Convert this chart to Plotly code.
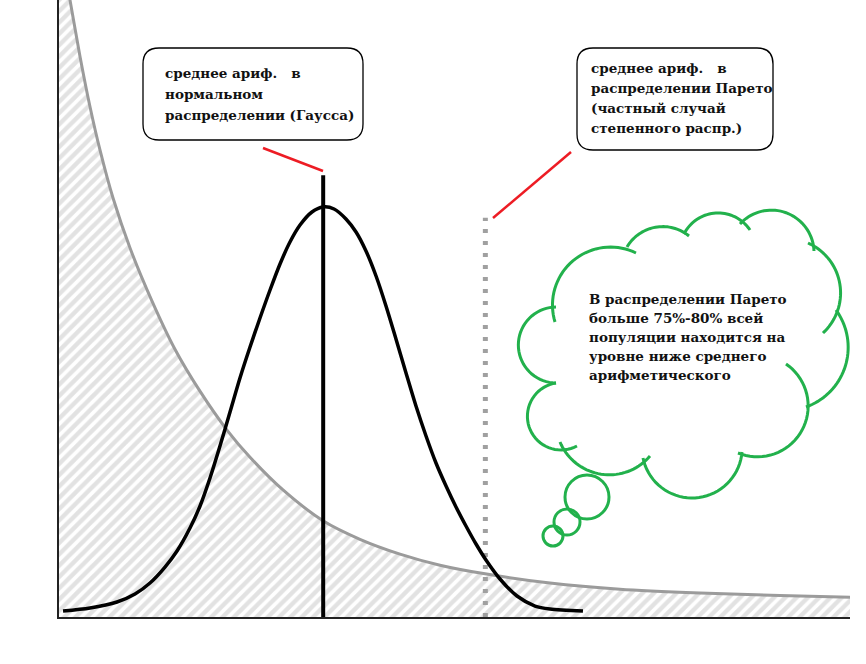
import math
import plotly.graph_objects as go

# Pareto (power-law) curve
pareto_x = [0, 1.39, 2.65, 3.92, 5.18, 6.83, 8.98, 11.76, 14.66, 17.82, 21.24,
            24.15, 28.32, 33.38, 38.05, 43.11, 48.17, 53.86, 62.07, 70.92,
            81.04, 91.15, 100]
pareto_y = [110.0, 100.0, 90.9, 82.7, 75.7, 67.9, 59.8, 51.2, 43.4, 36.6, 30.3,
            25.9, 20.6, 15.6, 12.6, 10.2, 8.4, 7.0, 5.5, 4.5, 3.9, 3.5, 3.2]

# normal (Gauss) curve
gauss_x = [0.51, 3.92, 7.33, 9.61, 11.50, 13.40, 14.92, 16.56, 17.83, 19.09,
           20.35, 21.62, 22.88, 24.15, 25.41, 26.68, 27.94, 29.20, 30.47, 31.98,
           33.38, 34.77, 36.28, 37.55, 38.81, 40.08, 41.34, 42.60, 43.87, 45.13,
           46.40, 47.66, 48.93, 50.19, 51.45, 52.72, 53.98, 55.75, 57.90, 60.18,
           62.07, 66.24]
gauss_y = [0.97, 1.46, 2.43, 3.73, 5.51, 8.10, 10.70, 14.42, 17.99, 22.53,
           27.71, 33.23, 38.74, 43.76, 48.46, 53.00, 57.21, 60.78, 63.53, 65.64,
           66.45, 66.13, 64.51, 62.40, 59.32, 55.27, 50.41, 45.06, 39.55, 34.20,
           29.34, 24.96, 21.23, 17.83, 14.75, 11.83, 9.24, 6.16, 3.40, 1.78,
           1.30, 0.97]

# arithmetic means: gauss, pareto
mean_x = [33.4, 53.9]
mean_top = [71.6, 64.7]

box_gauss = ["среднее ариф.\u00a0\u00a0 в", "нормальном", "распределении (Гаусса)"]
box_pareto = ["среднее ариф.\u00a0\u00a0 в", "распределении Парето",
              "(частный случай", "степенного распр.)"]
cloud_text = ["В распределении Парето", "больше 75%-80% всей",
              "популяции находится на", "уровне ниже среднего",
              "арифметического"]

W, H = 866, 664
ML, MR, MT, MB = 59, 16, 0, 47

FONT = "DejaVu Serif"
RED = "#ed1c24"
GREEN = "#22b14c"


def dx(px):
    # page pixel -> x data
    return (px - ML) / (W - ML - MR) * 100


def dy(py):
    # page pixel -> y data
    return (H - MB - py) / (H - MT - MB) * 100


def rounded_box(x0, y0, x1, y1, r=16):
    parts = [
        f"M {dx(x0 + r)},{dy(y0)}",
        f"L {dx(x1 - r)},{dy(y0)}",
        f"Q {dx(x1)},{dy(y0)} {dx(x1)},{dy(y0 + r)}",
        f"L {dx(x1)},{dy(y1 - r)}",
        f"Q {dx(x1)},{dy(y1)} {dx(x1 - r)},{dy(y1)}",
        f"L {dx(x0 + r)},{dy(y1)}",
        f"Q {dx(x0)},{dy(y1)} {dx(x0)},{dy(y1 - r)}",
        f"L {dx(x0)},{dy(y0 + r)}",
        f"Q {dx(x0)},{dy(y0)} {dx(x0 + r)},{dy(y0)}",
        "Z",
    ]
    return " ".join(parts)


def arc(p0, pm, p1, n=36):
    # circular arc from p0 through pm to p1 (page pixels) as an svg path
    (ax, ay), (bx, by), (cx, cy) = p0, pm, p1
    d = 2 * (ax * (by - cy) + bx * (cy - ay) + cx * (ay - by))
    ux = ((ax**2 + ay**2) * (by - cy) + (bx**2 + by**2) * (cy - ay)
          + (cx**2 + cy**2) * (ay - by)) / d
    uy = ((ax**2 + ay**2) * (cx - bx) + (bx**2 + by**2) * (ax - cx)
          + (cx**2 + cy**2) * (bx - ax)) / d
    r = math.hypot(ax - ux, ay - uy)
    a0 = math.atan2(ay - uy, ax - ux)
    am = math.atan2(by - uy, bx - ux)
    a1 = math.atan2(cy - uy, cx - ux)
    ccw = (am - a0) % (2 * math.pi)
    span = (a1 - a0) % (2 * math.pi)
    if ccw > span:
        span -= 2 * math.pi
    pts = []
    for i in range(n + 1):
        a = a0 + span * i / n
        pts.append(f"{dx(ux + r * math.cos(a))},{dy(uy + r * math.sin(a))}")
    return "M " + " L ".join(pts)


fig = go.Figure()

fig.add_trace(go.Scatter(
    x=pareto_x, y=pareto_y,
    mode='lines',
    line=dict(color='#9b9b9b', width=3, shape='spline', smoothing=0.8),
    fill='tozeroy',
    fillpattern=dict(shape='/', fgcolor='#c6c6c6', bgcolor='white',
                     size=8, solidity=0.55),
    hoverinfo='skip',
))

# mean of the normal distribution
fig.add_trace(go.Scatter(
    x=[mean_x[0], mean_x[0]], y=[0, mean_top[0]],
    mode='lines', line=dict(color='black', width=4), hoverinfo='skip',
))

# mean of the pareto distribution
fig.add_trace(go.Scatter(
    x=[mean_x[1], mean_x[1]], y=[0, mean_top[1]],
    mode='lines', line=dict(color='#a0a0a0', width=5, dash='4px,8px'),
    hoverinfo='skip',
))

fig.add_trace(go.Scatter(
    x=gauss_x, y=gauss_y,
    mode='lines',
    line=dict(color='black', width=3.5, shape='spline', smoothing=0.8),
    hoverinfo='skip',
))

shapes = []

# callout boxes
shapes.append(dict(type='path', path=rounded_box(143, 48, 363, 140),
                   line=dict(color='black', width=1.3), fillcolor='white'))
shapes.append(dict(type='path', path=rounded_box(577, 48, 773, 150),
                   line=dict(color='black', width=1.3), fillcolor='white'))

# red pointers
shapes.append(dict(type='line', x0=dx(263), y0=dy(148), x1=dx(323), y1=dy(171),
                   line=dict(color=RED, width=2.5)))
shapes.append(dict(type='line', x0=dx(571), y0=dy(152), x1=dx(493), y1=dy(218),
                   line=dict(color=RED, width=2.5)))

# thought cloud: start, outer point, end of every lobe
lobes = [
    [(555, 322), (578, 257), (636, 253)],
    [(627, 247), (657, 227), (689, 236)],
    [(684, 234), (720, 213), (750, 230)],
    [(740, 224), (780, 211), (814, 251)],
    [(808, 243), (840, 285), (823, 333)],
    [(836, 310), (848, 352), (806, 407)],
    [(786, 364), (808, 410), (738, 453)],
    [(742, 452), (702, 497), (643, 458)],
    [(650, 456), (600, 474), (560, 442)],
    [(577, 446), (528, 410), (556, 383)],
    [(556, 383), (519, 338), (556, 307)],
]
for p0, pm, p1 in lobes:
    shapes.append(dict(type='path', path=arc(p0, pm, p1),
                       line=dict(color=GREEN, width=3)))

for cx, cy, r in [(587, 497, 22), (567, 522, 13), (553, 536, 10)]:
    shapes.append(dict(type='circle', x0=dx(cx - r), x1=dx(cx + r),
                       y0=dy(cy + r), y1=dy(cy - r),
                       line=dict(color=GREEN, width=3)))

annotations = []


def add_lines(lines, left, top, step):
    for i, t in enumerate(lines):
        annotations.append(dict(
            x=dx(left), y=dy(top + i * step), text=t, showarrow=False,
            xanchor='left', yanchor='middle',
            font=dict(family=FONT, size=13.5, color='#111', weight='bold'),
        ))


add_lines(box_gauss, 163, 73, 21)
add_lines(box_pareto, 589, 68, 20)
add_lines(cloud_text, 587, 299, 19)

annotations.append(dict(
    x=dx(384), y=dy(636), text="Переменная (напр. IQ)", showarrow=False,
    font=dict(family=FONT, size=13, color='#111', weight='bold'),
))
annotations.append(dict(
    x=dx(27), y=dy(336), text="Частота", showarrow=False, textangle=-90,
    font=dict(family=FONT, size=13, color='#111', weight='bold'),
))

axis = dict(range=[0, 100], showgrid=False, zeroline=False, showticklabels=False,
            ticks='', showline=True, linecolor='#222', linewidth=2,
            fixedrange=True)

fig.update_layout(
    width=W, height=H,
    margin=dict(l=ML, r=MR, t=MT, b=MB),
    plot_bgcolor='white', paper_bgcolor='white',
    showlegend=False,
    xaxis=axis, yaxis=axis,
    shapes=shapes,
    annotations=annotations,
)

fig.write_html("out.html", config={'displayModeBar': False},
               post_script="document.body.style.margin='0';"
                           "document.body.style.overflow='hidden';")
